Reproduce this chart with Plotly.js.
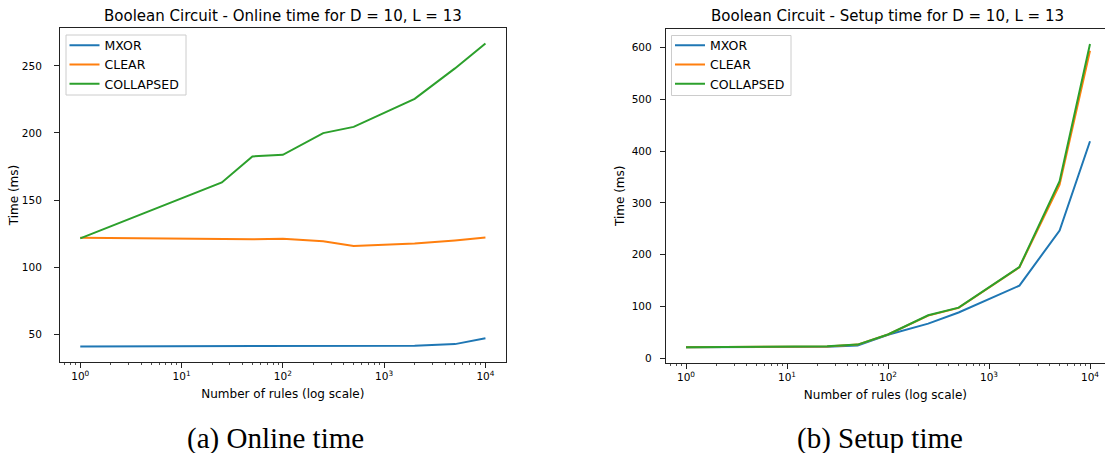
<!DOCTYPE html>
<html>
<head>
<meta charset="utf-8">
<script src="https://cdn.plot.ly/plotly-3.0.1.min.js"></script>
<style>
  html, body { margin: 0; padding: 0; background: #ffffff; overflow: hidden; }
  #chart { width: 1105px; height: 453px; }
</style>
</head>
<body>
<div id="chart"></div>
<script>
// ---- data ----
const rules = [1, 25, 50, 100, 250, 500, 2000, 5000, 10000];
const seriesNames = ["MXOR", "CLEAR", "COLLAPSED"];
const seriesColors = ["#1f77b4", "#ff7f0e", "#2ca02c"];

const onlineMXOR      = [40.9, 40.9, 40.9, 41.0, 41.0, 41.1, 41.4, 42.6, 47.0];
const onlineCLEAR     = [121.8, 120.7, 120.8, 121.1, 119.2, 115.8, 117.6, 119.9, 122.1];
const onlineCOLLAPSED = [121.4, 163.1, 182.5, 183.7, 199.9, 204.5, 225.4, 248.1, 266.7];

const setupMXOR      = [21.0, 22.0, 24.0, 45.0, 66.5, 88.0, 140.0, 246.5, 419.0];
const setupCLEAR     = [21.0, 22.5, 26.0, 45.5, 82.0, 97.0, 175.5, 335.0, 594.0];
const setupCOLLAPSED = [21.0, 22.6, 26.0, 45.5, 82.6, 97.5, 176.0, 342.0, 607.0];

const xTickVals = [1, 10, 100, 1000, 10000];
const xTickText = ["10<sup>0</sup>", "10<sup>1</sup>", "10<sup>2</sup>", "10<sup>3</sup>", "10<sup>4</sup>"];

const titleOnline = "Boolean Circuit - Online time for D = 10, L = 13";
const titleSetup  = "Boolean Circuit - Setup time for D = 10, L = 13";
const xLabel = "Number of rules (log scale)";
const yLabel = "Time (ms)";
const captionA = "(a) Online time";
const captionB = "(b) Setup time";

// ---- traces ----
const onlineSeries = [onlineMXOR, onlineCLEAR, onlineCOLLAPSED];
const setupSeries = [setupMXOR, setupCLEAR, setupCOLLAPSED];
const traces = [];
onlineSeries.forEach((ys, i) => traces.push({
  x: rules, y: ys, type: "scatter", mode: "lines", name: seriesNames[i],
  line: {color: seriesColors[i], width: 2}, xaxis: "x", yaxis: "y", legend: "legend"
}));
setupSeries.forEach((ys, i) => traces.push({
  x: rules, y: ys, type: "scatter", mode: "lines", name: seriesNames[i],
  line: {color: seriesColors[i], width: 2}, xaxis: "x2", yaxis: "y2", legend: "legend2"
}));

const W = 1105, H = 453;
const axisFont = {family: "DejaVu Sans", size: 10.5, color: "#000"};
const spine = "#222";

function xAxis(domain, range, anchor) {
  return {
    type: "log", domain: domain, range: range, anchor: anchor,
    showline: true, linecolor: spine, linewidth: 1, mirror: true,
    ticks: "outside", ticklen: 5, tickwidth: 1, tickcolor: spine,
    tickmode: "array", tickvals: xTickVals, ticktext: xTickText,
    tickfont: axisFont, showgrid: false, zeroline: false,
    minor: {ticks: "outside", ticklen: 2.5, tickwidth: 0.8, tickcolor: spine, dtick: "D1", showgrid: false},
    title: {text: xLabel, font: {family: "DejaVu Sans", size: 12, color: "#000"}, standoff: 8},
    automargin: false
  };
}
function yAxis(domain, range, anchor, dtick, mirror, labelStandoff, titleStandoff) {
  return {
    domain: domain, range: range, anchor: anchor,
    showline: true, linecolor: spine, linewidth: 1, mirror: mirror,
    ticks: "outside", ticklen: 5, tickwidth: 1, tickcolor: spine,
    dtick: dtick, tick0: 0, tickfont: axisFont, showgrid: false, zeroline: false,
    ticklabelstandoff: labelStandoff,
    title: {text: yLabel, font: {family: "DejaVu Sans", size: 12, color: "#000"}, standoff: titleStandoff},
    automargin: false
  };
}

// legend frames (matplotlib style)
function boxPath(x0, y0, x1, y1) {
  return "M" + x0 + "," + y0 + " L" + x1 + "," + y0 + " L" + x1 + "," + y1 +
    " L" + x0 + "," + y1 + " Z";
}
function boxShape(x0, y0, x1, y1) {
  return {type: "path", xref: "paper", yref: "paper", layer: "above",
    path: boxPath(x0 / W, 1 - y0 / H, x1 / W, 1 - y1 / H),
    fillcolor: "rgba(255,255,255,0.8)", line: {color: "#cccccc", width: 1}};
}

const legendBase = {
  xanchor: "left", yanchor: "top",
  bgcolor: "rgba(0,0,0,0)", borderwidth: 0,
  font: {family: "DejaVu Sans", size: 12.5, color: "#000"}, tracegroupgap: 0
};

const layout = {
  width: W, height: H,
  margin: {l: 0, r: 0, t: 0, b: 0},
  paper_bgcolor: "#fff", plot_bgcolor: "#fff",
  font: {family: "DejaVu Sans", color: "#000"},
  xaxis: xAxis([60 / W, 505.7 / W], [-0.2, 4.2], "y"),
  yaxis: yAxis([1 - 361.7 / H, 1 - 28.3 / H], [29.5, 278.0], "x", 50, true, 10, 0),
  xaxis2: xAxis([665.8 / W, 1], [-0.2, 4.1485], "y2"),
  yaxis2: yAxis([1 - 362.5 / H, 1 - 29 / H], [-8.6, 636], "x2", 100, false, 6, 4),
  legend: Object.assign({x: 64.5 / W, y: 1 - 30.5 / H}, legendBase),
  legend2: Object.assign({x: 670 / W, y: 1 - 30.5 / H}, legendBase),
  shapes: [boxShape(66, 35, 186, 95), boxShape(671.5, 35.5, 791, 95.5)],
  annotations: [
    {text: titleOnline, xref: "paper", yref: "paper", x: 282.8 / W, y: 1 - 16 / H,
     xanchor: "center", yanchor: "middle", showarrow: false,
     font: {family: "DejaVu Sans", size: 15, color: "#000"}},
    {text: titleSetup, xref: "paper", yref: "paper", x: 887.9 / W, y: 1 - 16 / H,
     xanchor: "center", yanchor: "middle", showarrow: false,
     font: {family: "DejaVu Sans", size: 15, color: "#000"}},
    {text: captionA, xref: "paper", yref: "paper", x: 275 / W, y: 1 - 438 / H,
     xanchor: "center", yanchor: "middle", showarrow: false,
     font: {family: "Liberation Serif", size: 29, color: "#000"}},
    {text: captionB, xref: "paper", yref: "paper", x: 880 / W, y: 1 - 438 / H,
     xanchor: "center", yanchor: "middle", showarrow: false,
     font: {family: "Liberation Serif", size: 29, color: "#000"}}
  ],
  showlegend: true
};

Plotly.newPlot("chart", traces, layout, {staticPlot: true, displayModeBar: false});
</script>
</body>
</html>
